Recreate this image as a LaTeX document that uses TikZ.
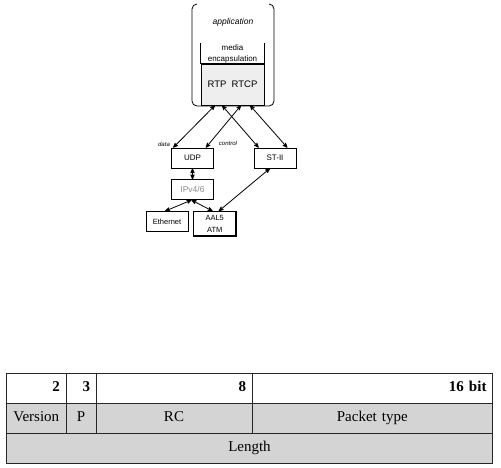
\documentclass[tikz,border=0pt]{standalone}
\usepackage{fontspec}
\setmainfont{Liberation Serif}
\setsansfont{Liberation Sans}
\usepackage{tikz}
\usetikzlibrary{arrows}
\usetikzlibrary{positioning}
\definecolor{cellgray}{HTML}{D4D4D4}
\definecolor{rtpgray}{HTML}{EEEEEE}
\tikzstyle{RTP_style}=[
	>=stealth',x=1pt,y=-1pt,
	proto/.style={rectangle,fill=white,draw,line width=0.7pt,minimum width=42pt,minimum height=20pt,inner sep=0pt,font=\sffamily\fontsize{8}{9}\selectfont},
	label/.style={rectangle,draw=none,inner sep=0pt,font=\sffamily\fontsize{8}{10.5}\selectfont},
	tag/.style={rectangle,draw=none,inner sep=0pt,font=\sffamily\itshape\fontsize{6}{7}\selectfont},
	cell/.style={rectangle,draw=black!85,line width=1pt,outer sep=0pt,minimum height=30pt,inner xsep=6pt,inner ysep=0pt,text height=10pt,text depth=3pt,font=\fontsize{15}{17}\selectfont},
	head/.style={cell,fill=white,align=right,font=\bfseries\fontsize{15}{17}\selectfont},
	field/.style={cell,fill=cellgray,align=center},
	link/.style={line width=0.8pt}
]
\begin{document}
\begin{tikzpicture}[RTP_style]
		\useasboundingbox (0,0) rectangle (501,467);
		
		% application frame
		\draw[line width=0.8pt,rounded corners=5pt] (197,4) -- (192,4) -- (192,106) -- (274,106) -- (274,4) -- (269,4);
		\node[label,font=\sffamily\itshape\fontsize{8.5}{10}\selectfont] (app) at (233,22) {application};
		\node[label,align=center] (media) at (232.5,54) {media\\encapsulation};
		
		\node[rectangle,fill=rtpgray,draw,line width=0.7pt,minimum width=63pt,minimum height=41pt,inner sep=0pt,font=\sffamily\fontsize{9.5}{11}\selectfont] (rtp) at (232.5,84.5) {RTP\ \ RTCP};
		\draw[line width=0.7pt] (rtp.north west) -- ++(0,-21);
		\draw[line width=0.7pt] (rtp.north east) -- ++(0,-21);
		\draw[line width=1.6pt] (rtp.north west) -- (rtp.north east);
		
		% protocol stack
		\node[proto]    (udp) at (192.5,158)   {UDP};
		\node[proto]    (st2) at (275,158)   {ST-II};
		\node[proto,text=black!45,font=\sffamily\fontsize{8.5}{9}\selectfont]    (ip)[below=11pt of udp]   {IPv4/6};
		\node[proto,font=\sffamily\fontsize{7.5}{9}\selectfont]    (eth) at (167,221.5)   {Ethernet};
		\node[proto,minimum height=24pt,align=center,font=\sffamily\fontsize{7.5}{12}\selectfont]    (aal)[right=5pt of eth.north east,anchor=north west]   {AAL5\\ATM};
		\draw[line width=1.6pt] (aal.north east) -- (aal.south east) -- (aal.south west);
		
		\node[tag]     (data) at (164,144) {data};
		\node[tag]     (ctrl) at (228,143) {control};
		
		\path[<->] ([xshift=2pt]udp.north west) edge [link]  ([xshift=-17.5pt]rtp.south)
		([xshift=-8pt]udp.north east) edge [link]  ([xshift=8.5pt]rtp.south)
		([xshift=5pt]st2.north west) edge [link]  ([xshift=-10.5pt]rtp.south)
		([xshift=-9pt]st2.north east) edge [link]  ([xshift=17.5pt]rtp.south);
		
		\path[<->] (udp) edge [link]  (ip)
		([xshift=-1pt]ip.south) edge [link]  ([xshift=-2pt]eth.north)
		([xshift=-1pt]ip.south) edge [link]  ([xshift=-2pt]aal.north)
		([xshift=-5pt]st2.south) edge [link]  ([xshift=4pt]aal.north);
		
		% header table
		\node[head,text width=47.5pt,anchor=north west] (b2) at (6.5,373) {2};
		\node[head,text width=18pt]    (b3)[right=0pt of b2]   {3};
		\node[head,text width=144pt]   (b8)[right=0pt of b3]   {8};
		\node[head,text width=228.5pt] (b16)[right=0pt of b8]  {16 bit};
		
		\node[field,text width=47.5pt]  (version)[below=0pt of b2]  {Version};
		\node[field,text width=18pt]    (p)[below=0pt of b3]        {P};
		\node[field,text width=144pt]   (rc)[below=0pt of b8]       {RC};
		\node[field,text width=228.5pt] (ptype)[below=0pt of b16]   {Packet type};
		
		\node[field,text width=474pt,anchor=north west] (length) at (version.south west) {Length};
		
\end{tikzpicture}
\end{document}
